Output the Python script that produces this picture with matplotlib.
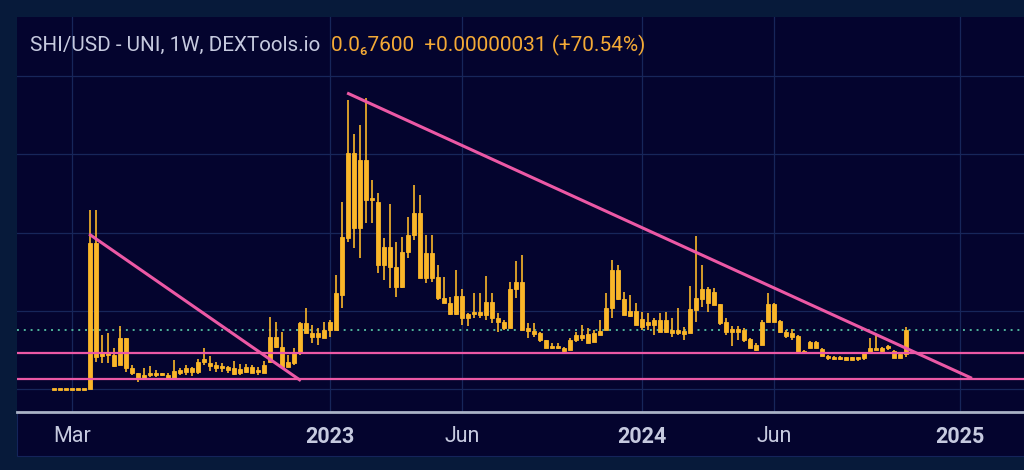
import matplotlib
matplotlib.use("Agg")
import matplotlib.pyplot as plt
import matplotlib.dates as mdates
from matplotlib.patches import Rectangle
import numpy as np
import pandas as pd

plt.rcParams['font.family'] = ['Roboto', 'DejaVu Sans']

# weekly candles, prices in units of 1e-6 USD (first 6 weeks are flat pre-launch)
first_week = '2022-02-14'
opens = [0, 0, 0, 0, 0, 0,
         0.00, 1.87, 0.42, 0.46, 0.44, 0.31, 0.65, 0.27, 0.21, 0.14,
         0.18, 0.21, 0.18, 0.18, 0.13, 0.21, 0.22, 0.27, 0.22, 0.35,
         0.34, 0.31, 0.27, 0.28, 0.27, 0.21, 0.22, 0.28, 0.22, 0.21,
         0.35, 0.67, 0.54, 0.28, 0.34, 0.46, 0.85, 0.72, 0.67, 0.65,
         0.76, 0.76, 1.20, 1.93, 3.01, 2.06, 2.92, 2.41, 2.39, 1.59,
         1.82, 1.56, 1.30, 1.75, 1.97, 2.25, 1.42, 1.74, 1.43, 1.16,
         1.10, 0.96, 1.19, 0.91, 0.96, 0.99, 0.95, 1.11, 0.91, 0.86,
         0.78, 1.28, 1.37, 0.74, 0.74, 0.72, 0.63, 0.53, 0.55, 0.53,
         0.50, 0.63, 0.69, 0.59, 0.60, 0.69, 0.76, 1.04, 1.52, 1.15,
         0.94, 1.00, 0.80, 0.86, 0.82, 0.88, 0.73, 0.76, 0.72, 0.74,
         0.72, 1.01, 1.15, 1.28, 1.24, 1.09, 0.86, 0.73, 0.77, 0.76,
         0.64, 0.50, 0.57, 0.86, 1.09, 0.87, 0.73, 0.67, 0.68, 0.46,
         0.53, 0.60, 0.51, 0.42, 0.41, 0.40, 0.41, 0.37, 0.40, 0.40,
         0.46, 0.53, 0.53, 0.53, 0.49, 0.40, 0.445]
closes = [0, 0, 0, 0, 0, 0,
          1.87, 0.41, 0.46, 0.44, 0.30, 0.65, 0.27, 0.21, 0.13, 0.18,
          0.21, 0.18, 0.20, 0.13, 0.23, 0.25, 0.27, 0.22, 0.35, 0.39,
          0.30, 0.27, 0.30, 0.25, 0.20, 0.26, 0.28, 0.21, 0.25, 0.31,
          0.67, 0.54, 0.28, 0.35, 0.46, 0.85, 0.72, 0.67, 0.72, 0.76,
          0.86, 1.23, 1.94, 3.01, 2.06, 2.92, 2.41, 2.44, 1.59, 1.82,
          1.56, 1.30, 1.75, 1.97, 2.25, 1.42, 1.74, 1.42, 1.16, 1.10,
          0.96, 1.19, 0.91, 0.96, 0.99, 0.95, 1.11, 0.91, 0.86, 0.78,
          1.28, 1.37, 0.76, 0.78, 0.71, 0.63, 0.53, 0.55, 0.53, 0.49,
          0.63, 0.69, 0.65, 0.71, 0.72, 0.74, 1.04, 1.52, 1.15, 0.95,
          1.00, 0.82, 0.90, 0.82, 0.88, 0.73, 0.88, 0.72, 0.76, 0.71,
          1.03, 1.17, 1.28, 1.10, 1.08, 0.85, 0.73, 0.77, 0.73, 0.63,
          0.53, 0.57, 0.86, 1.09, 0.86, 0.73, 0.68, 0.72, 0.46, 0.49,
          0.60, 0.53, 0.42, 0.40, 0.40, 0.41, 0.37, 0.41, 0.39, 0.46,
          0.53, 0.51, 0.49, 0.54, 0.40, 0.445, 0.76]
highs = [0, 0, 0, 0, 0, 0,
         2.29, 2.29, 0.69, 0.72, 0.53, 0.81, 0.65, 0.31, 0.21, 0.27,
         0.30, 0.24, 0.21, 0.21, 0.37, 0.27, 0.31, 0.28, 0.39, 0.53,
         0.42, 0.35, 0.34, 0.30, 0.36, 0.32, 0.32, 0.31, 0.28, 0.36,
         0.92, 0.86, 0.73, 0.44, 0.53, 0.86, 1.04, 0.82, 0.78, 0.86,
         0.88, 1.46, 2.39, 3.69, 3.26, 3.37, 3.72, 2.67, 2.50, 1.93,
         2.36, 1.88, 1.94, 2.20, 2.61, 2.48, 1.97, 1.97, 1.59, 1.43,
         1.18, 1.52, 1.28, 0.97, 1.23, 1.23, 1.45, 1.23, 0.97, 0.88,
         1.37, 1.64, 1.71, 0.85, 0.85, 0.73, 0.63, 0.59, 0.59, 0.54,
         0.65, 0.73, 0.82, 0.78, 0.76, 0.88, 1.23, 1.65, 1.59, 1.24,
         1.20, 1.10, 0.99, 0.97, 0.91, 0.97, 0.99, 0.91, 1.04, 0.79,
         1.32, 1.96, 1.59, 1.31, 1.29, 1.09, 0.91, 0.81, 0.81, 0.78,
         0.65, 0.59, 0.88, 1.23, 1.10, 0.88, 0.76, 0.77, 0.69, 0.50,
         0.62, 0.62, 0.53, 0.44, 0.42, 0.42, 0.41, 0.41, 0.41, 0.48,
         0.65, 0.71, 0.54, 0.57, 0.50, 0.48, 0.80]
lows = [0, 0, 0, 0, 0, 0,
        0.00, 0.35, 0.34, 0.34, 0.28, 0.31, 0.22, 0.18, 0.09, 0.14,
        0.16, 0.16, 0.17, 0.12, 0.12, 0.18, 0.18, 0.17, 0.20, 0.31,
        0.23, 0.22, 0.22, 0.21, 0.18, 0.18, 0.21, 0.21, 0.18, 0.21,
        0.35, 0.53, 0.28, 0.28, 0.31, 0.44, 0.72, 0.59, 0.57, 0.65,
        0.67, 0.76, 1.04, 1.88, 1.80, 1.67, 2.12, 2.12, 1.48, 1.39,
        1.29, 1.18, 1.29, 1.67, 1.90, 1.42, 1.36, 1.37, 1.14, 1.10,
        0.95, 0.95, 0.82, 0.81, 0.91, 0.91, 0.88, 0.85, 0.73, 0.76,
        0.78, 1.16, 0.76, 0.65, 0.67, 0.60, 0.53, 0.51, 0.51, 0.48,
        0.50, 0.60, 0.62, 0.59, 0.60, 0.69, 0.76, 0.91, 1.14, 0.95,
        0.92, 0.82, 0.76, 0.76, 0.69, 0.73, 0.72, 0.67, 0.69, 0.63,
        0.72, 0.86, 1.05, 0.99, 1.08, 0.82, 0.69, 0.55, 0.63, 0.60,
        0.53, 0.49, 0.57, 0.86, 0.86, 0.72, 0.65, 0.63, 0.46, 0.46,
        0.53, 0.53, 0.42, 0.37, 0.37, 0.37, 0.37, 0.37, 0.36, 0.37,
        0.46, 0.50, 0.48, 0.50, 0.40, 0.40, 0.41]

# drawn trend lines (date, price)
wedge1_dates = ['2022-03-27', '2022-11-29']
wedge1_prices = [1.98, 0.11]
wedge2_dates = ['2023-01-22', '2025-01-20']
wedge2_prices = [3.78, 0.14]
support_levels = [0.459, 0.131]
last_price = 0.756

tick_dates = ['2022-03-07', '2023-01-02', '2023-06-05', '2024-01-01', '2024-06-03', '2025-01-06']
tick_labels = ['Mar', '2023', 'Jun', '2024', 'Jun', '2025']
bold_ticks = ['2023', '2024', '2025']

# colours
outer_bg = '#071a3a'
panel_bg = '#04042e'
grid_col = '#17265a'
candle_col = '#fab629'
pink = '#ec58a5'
dot_col = '#4fb39a'
text_col = '#c6cadf'

weeks = pd.date_range(first_week, periods=len(opens), freq='7D')
x = mdates.date2num(weeks)
o = np.array(opens)
c = np.array(closes)

fig = plt.figure(figsize=(10.24, 4.70), dpi=100, facecolor=outer_bg)
fig.add_artist(Rectangle((16.7 / 1024, 14 / 470), 1 - 16.7 / 1024, (456 - 16.7) / 470,
                         transform=fig.transFigure, facecolor=panel_bg,
                         edgecolor='#14245a', linewidth=0.8, zorder=0))
ax = fig.add_axes([16.7 / 1024, 58.3 / 470, 1 - 16.7 / 1024, (411.7 - 16.7) / 470])
ax.set_facecolor(panel_bg)

# candles
ax.vlines(x, lows, highs, color=candle_col, linewidth=1.2, zorder=3)
h = np.maximum(np.abs(c - o), 0.025)
bottom = (o + c) / 2 - h / 2
ax.bar(x, h, bottom=bottom, width=5.2, color=candle_col,
       edgecolor=candle_col, linewidth=0.6, zorder=4)

# lines
for lvl in support_levels:
    ax.axhline(lvl, color=pink, linewidth=1.6, zorder=5)
ax.plot(pd.to_datetime(wedge1_dates), wedge1_prices, color=pink, linewidth=2.2,
        solid_capstyle='butt', zorder=5)
ax.plot(pd.to_datetime(wedge2_dates), wedge2_prices, color=pink, linewidth=2.2,
        solid_capstyle='butt', zorder=5)
ax.axhline(last_price, color=dot_col, linewidth=1.4, linestyle=(0, (1, 2.5)), zorder=2)

# axes
base = mdates.date2num(pd.Timestamp('2022-03-07'))
ax.set_xlim(base - 64.5, base + 1110.7)
ax.set_ylim(-0.2857, 4.753)
ax.set_yticks([0, 1, 2, 3, 4])
ax.set_yticklabels([])
ax.set_xticks(mdates.date2num(pd.to_datetime(tick_dates)))
ax.set_xticklabels(tick_labels)
ax.tick_params(axis='both', length=0)
ax.tick_params(axis='x', pad=10, labelsize=15.5, labelcolor=text_col)
for lab in ax.get_xticklabels():
    if lab.get_text() in bold_ticks:
        lab.set_fontweight('bold')
ax.grid(True, color=grid_col, linewidth=0.9)
ax.set_axisbelow(True)
for side in ['top', 'left', 'right']:
    ax.spines[side].set_visible(False)
ax.spines['bottom'].set_color('#a9b2c6')
ax.spines['bottom'].set_linewidth(2)

# header
t1 = fig.text(30 / 1024, 1 - 45 / 470, 'SHI/USD - UNI, 1W, DEXTools.io',
              color=text_col, fontsize=14.9, va='center', ha='left')
ax.annotate('0.0\u20867600  +0.00000031 (+70.54%)', xy=(1, 0.5), xycoords=t1,
            xytext=(8, 0), textcoords='offset points', color='#f4aa36',
            fontsize=15, va='center', ha='left', annotation_clip=False)

fig.savefig('out.png', dpi=100, facecolor=outer_bg)
